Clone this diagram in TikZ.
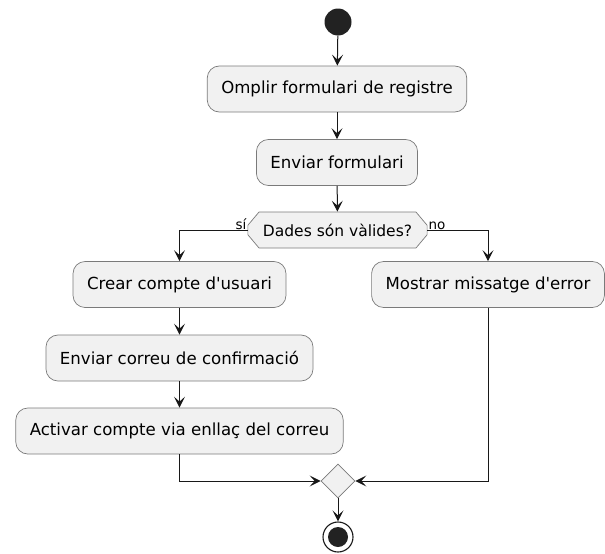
\documentclass[tikz,border=0pt]{standalone}
\usepackage{fontspec}
\setmainfont{DejaVu Sans}
\usetikzlibrary{arrows.meta,shapes.geometric,shapes.misc}
\definecolor{actfill}{HTML}{F1F1F1}
\definecolor{actline}{HTML}{181818}
\definecolor{actborder}{HTML}{7A7A7A}
\definecolor{dotfill}{HTML}{222222}
\tikzset{
  act/.style={draw=actborder, line width=0.7pt, fill=actfill, rounded corners=12pt,
    minimum height=46pt, inner xsep=14pt, font=\fontsize{16.6}{19}\selectfont, text=black},
  flow/.style={draw=actline, line width=1pt,
    -{Stealth[length=11pt, width=11pt, inset=5pt]}},
  lbl/.style={font=\fontsize{13.5}{15}\selectfont, inner sep=1pt, text=black},
}
\begin{document}
\begin{tikzpicture}[x=1pt, y=-1pt]
  \useasboundingbox (0,0) rectangle (605,554);
  % start
  \node[circle, fill=dotfill, minimum size=27pt, inner sep=0] (start) at (338,22) {};
  % actions
  \node[act] (fill) at (337,89) {Omplir formulari de registre};
  \node[act] (send) at (337,162.5) {Enviar formulari};
  % decision
  \node[draw=actborder, line width=0.7pt, fill=actfill, chamfered rectangle,
        chamfered rectangle xsep=15pt, chamfered rectangle angle=40,
        minimum height=36pt, inner xsep=7pt, font=\fontsize{15.5}{18}\selectfont]
        (dec) at (337.5,230) {Dades són vàlides?};
  \node[act] (create) at (179.5,284.5) {Crear compte d\textquotesingle usuari};
  \node[act] (error) at (488,284.5) {Mostrar missatge d\textquotesingle error};
  \node[act] (mail) at (179.5,358) {Enviar correu de confirmació};
  \node[act] (activate) at (179.5,431) {Activar compte via enllaç del correu};
  % merge
  \node[diamond, draw=actborder, line width=0.7pt, fill=actfill, minimum size=34pt, inner sep=0]
        (merge) at (338,481) {};
  % end
  \node[circle, draw=actline, line width=1.1pt, fill=white, minimum size=30pt, inner sep=0]
        (stop) at (338,537) {};
  \node[circle, fill=dotfill, minimum size=20pt, inner sep=0] (stopdot) at (stop) {};
  % connectors
  \draw[flow] (start) -- (fill);
  \draw[flow] (fill) -- (send);
  \draw[flow] (send) -- (dec);
  \draw[flow] (dec.west) -| (create.north);
  \draw[flow] (dec.east) -| (error.north);
  \draw[flow] (create) -- (mail);
  \draw[flow] (mail) -- (activate);
  \draw[flow] (activate.south) |- (merge.west);
  \draw[flow] (error.south) |- (merge.east);
  \draw[flow] (merge) -- (stop);
  % branch labels
  \node[lbl, anchor=south east] (yes) at ([yshift=-1pt]dec.west) {sí};
  \node[lbl, anchor=south west] (no) at ([yshift=-1pt]dec.east) {no};
\end{tikzpicture}
\end{document}
